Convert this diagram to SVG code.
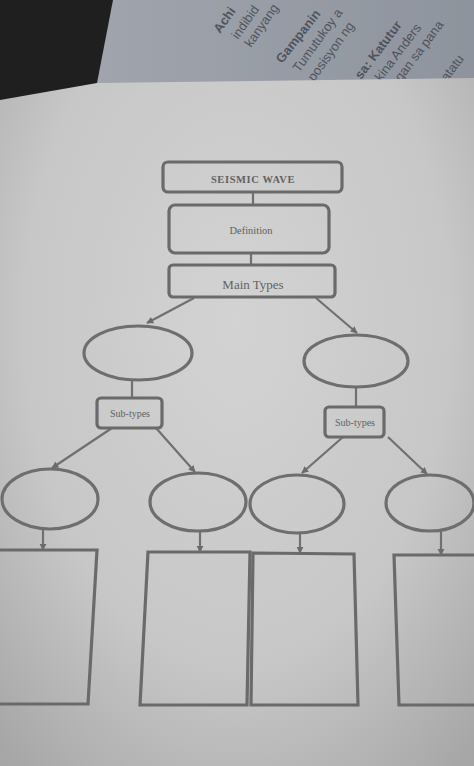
<svg xmlns="http://www.w3.org/2000/svg" width="474" height="766" viewBox="0 0 474 766">
<defs>
<radialGradient id="paper" cx="0.5" cy="0.42" r="0.75">
<stop offset="0" stop-color="#d3d3d3"/>
<stop offset="0.6" stop-color="#c7c7c7"/>
<stop offset="1" stop-color="#a6a6a6"/>
</radialGradient>
<linearGradient id="page2" x1="0" y1="0" x2="1" y2="0">
<stop offset="0" stop-color="#a0a5ad"/>
<stop offset="1" stop-color="#8e949d"/>
</linearGradient>
<clipPath id="topclip"><polygon points="100,0 474,0 474,78 97,83"/></clipPath>
<marker id="ah" viewBox="0 0 10 10" refX="9" refY="5" markerWidth="3.2" markerHeight="3.2" orient="auto" markerUnits="strokeWidth">
<path d="M0,0 L10,5 L0,10 z" fill="#6b6b6b"/>
</marker>
<style>
.box{fill:none;stroke:#6a6a6a;stroke-width:3.2}
.ell{fill:none;stroke:#6e6e6e;stroke-width:3.2}
.ln{fill:none;stroke:#707070;stroke-width:2.2}
.ar{fill:none;stroke:#707070;stroke-width:2.2;marker-end:url(#ah)}
.t{font-family:"Liberation Serif","DejaVu Serif",serif;fill:#626262;text-anchor:middle}
.bg{font-family:"Liberation Sans","DejaVu Sans",sans-serif;fill:#3e434a;font-size:13px}
</style>
</defs>
<rect x="0" y="0" width="474" height="766" fill="url(#paper)"/>
<polygon points="100,0 474,0 474,78 97,83" fill="url(#page2)"/>
<g clip-path="url(#topclip)" opacity="0.8">
<text class="bg" font-weight="bold" transform="translate(220,34) rotate(-55)">Achi</text>
<text class="bg" transform="translate(238,40) rotate(-55)">indibid</text>
<text class="bg" transform="translate(251,48) rotate(-55)">kanyang</text>
<text class="bg" font-weight="bold" transform="translate(282,64) rotate(-52)">Gampanin</text>
<text class="bg" transform="translate(299,73) rotate(-54)">Tumutukoy a</text>
<text class="bg" transform="translate(314,82) rotate(-54)">posisyon ng</text>
<text class="bg" font-weight="bold" transform="translate(361,80) rotate(-53)">sa: Katutur</text>
<text class="bg" transform="translate(381,82) rotate(-53)">kina Anders</text>
<text class="bg" transform="translate(401,82) rotate(-53)">gan sa pana</text>
<text class="bg" transform="translate(447,82) rotate(-53)">atatu</text>
</g>
<polygon points="0,0 113,0 97,83 0,100" fill="#1f1f20"/>
<g id="connectors">
<line class="ln" x1="253" y1="192" x2="253" y2="205"/>
<line class="ln" x1="251" y1="253" x2="251" y2="265"/>
<line class="ar" x1="194" y1="298" x2="147" y2="323"/>
<line class="ar" x1="316" y1="298" x2="357" y2="333"/>
<line class="ln" x1="132" y1="380" x2="132" y2="398"/>
<line class="ln" x1="356" y1="388" x2="356" y2="407"/>
<line class="ar" x1="112" y1="428" x2="52" y2="468"/>
<line class="ar" x1="156" y1="428" x2="195" y2="472"/>
<line class="ar" x1="343" y1="437" x2="302" y2="473"/>
<line class="ar" x1="388" y1="437" x2="427" y2="474"/>
<line class="ar" x1="43" y1="529" x2="43" y2="550"/>
<line class="ar" x1="200" y1="532" x2="200" y2="552"/>
<line class="ar" x1="300" y1="533" x2="300" y2="553"/>
<line class="ar" x1="441" y1="530" x2="441" y2="555"/>
</g>
<g id="seismic-wave">
<rect class="box" x="163" y="162" width="179" height="30" rx="5"/>
<text class="t" x="253" y="183" font-size="10.5" font-weight="bold" letter-spacing="0.6">SEISMIC WAVE</text>
</g>
<g id="definition">
<rect class="box" x="169" y="205" width="160" height="48" rx="6"/>
<text class="t" x="251" y="234" font-size="10.5">Definition</text>
</g>
<g id="main-types">
<rect class="box" x="169" y="265" width="166" height="32" rx="4"/>
<text class="t" x="253" y="289" font-size="13">Main Types</text>
</g>
<g id="type-left"><ellipse class="ell" cx="138" cy="353" rx="54" ry="27"/></g>
<g id="type-right"><ellipse class="ell" cx="356" cy="361" rx="52" ry="26"/></g>
<g id="subtypes-left">
<rect class="box" x="97" y="398" width="65" height="30" rx="4"/>
<text class="t" x="130" y="417" font-size="10">Sub-types</text>
</g>
<g id="subtypes-right">
<rect class="box" x="325" y="407" width="59" height="30" rx="4"/>
<text class="t" x="355" y="426" font-size="10">Sub-types</text>
</g>
<g id="sub1"><ellipse class="ell" cx="50" cy="499" rx="48" ry="30"/></g>
<g id="sub2"><ellipse class="ell" cx="198" cy="502" rx="48" ry="29"/></g>
<g id="sub3"><ellipse class="ell" cx="297" cy="504" rx="47" ry="29"/></g>
<g id="sub4"><ellipse class="ell" cx="430" cy="503" rx="44" ry="28"/></g>
<g id="box1"><polygon class="box" points="-5,550 97,550 88,704 -5,704"/></g>
<g id="box2"><polygon class="box" points="148,552 250,552 247,705 140,705"/></g>
<g id="box3"><polygon class="box" points="253,553 354,554 358,705 251,705"/></g>
<g id="box4"><polygon class="box" points="394,555 480,555 480,705 399,705"/></g>
</svg>
